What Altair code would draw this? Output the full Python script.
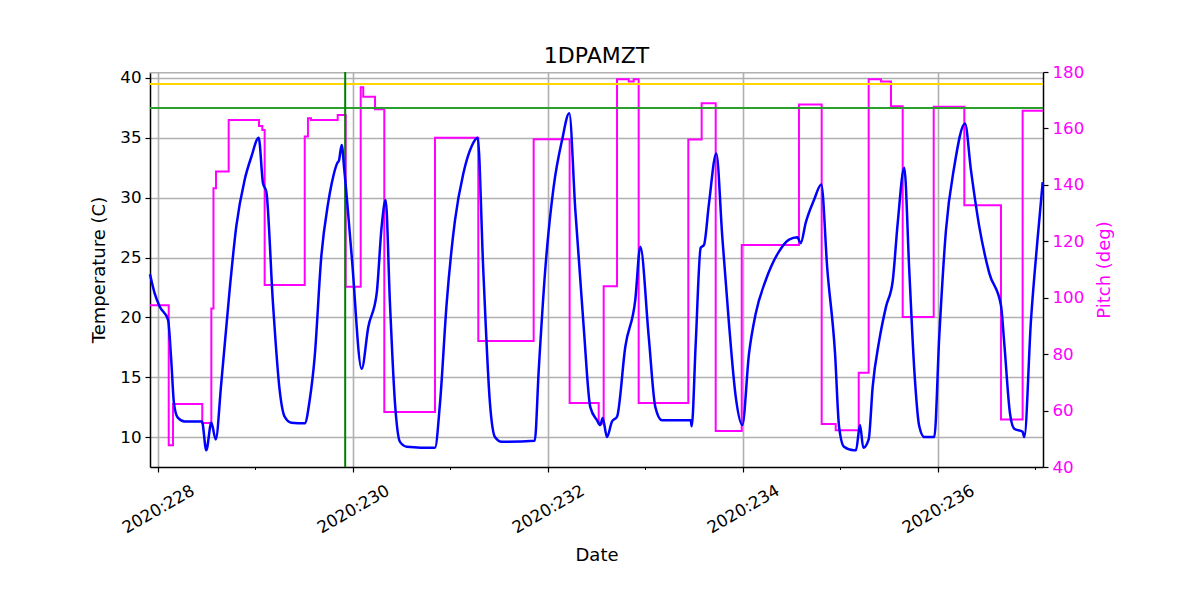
import altair as alt
import pandas as pd

# ---- data ----
temp_day = [227.918, 227.966, 228.017, 228.103, 228.136, 228.164, 228.205, 228.274, 228.451, 228.495,
            228.547, 228.592, 228.649, 228.735, 228.803, 228.889, 228.957, 229.033, 229.077, 229.111,
            229.179, 229.248, 229.299, 229.367, 229.505, 229.556, 229.607, 229.675, 229.744, 229.782,
            229.839, 229.856, 229.884, 229.911, 229.987, 230.089, 230.157, 230.243, 230.294, 230.335,
            230.379, 230.431, 230.482, 230.551, 230.841, 230.892, 230.961, 231.046, 231.131, 231.217,
            231.279, 231.336, 231.405, 231.456, 231.525, 231.864, 231.905, 231.972, 232.058, 232.144,
            232.218, 232.280, 232.366, 232.434, 232.503, 232.536, 232.561, 232.605, 232.656, 232.708,
            232.793, 232.895, 232.947, 233.033, 233.101, 233.169, 233.464, 233.474, 233.515, 233.566,
            233.600, 233.651, 233.726, 233.788, 233.856, 233.925, 233.993, 234.062, 234.130, 234.233,
            234.369, 234.472, 234.557, 234.592, 234.643, 234.728, 234.803, 234.865, 234.944, 234.985,
            235.036, 235.138, 235.159, 235.200, 235.234, 235.289, 235.330, 235.398, 235.467, 235.535,
            235.587, 235.654, 235.705, 235.757, 235.808, 235.859, 235.962, 236.013, 236.082, 236.167,
            236.277, 236.338, 236.423, 236.526, 236.646, 236.680, 236.738, 236.782, 236.868, 236.885,
            236.954, 237.023, 237.074]
temp_c = [23.6, 22.0, 20.9, 19.8, 16.4, 12.8, 11.6, 11.3, 11.3, 8.9,
          11.2, 9.8, 14.5, 22.3, 27.6, 31.5, 33.4, 35.0, 31.2, 30.5,
          21.2, 13.9, 11.7, 11.2, 11.15, 13.1, 16.7, 25.1, 29.5, 31.2,
          32.9, 33.1, 34.4, 32.3, 25.1, 15.7, 19.2, 22.0, 27.6, 29.8,
          21.2, 12.8, 9.6, 9.2, 9.1, 12.8, 21.2, 28.1, 32.0, 34.3,
          35.0, 24.0, 12.8, 10.0, 9.6, 9.7, 15.6, 24.0, 30.9, 34.8,
          37.05, 29.0, 19.2, 12.5, 11.4, 11.0, 11.6, 10.0, 11.3, 11.7,
          17.55, 21.45, 25.9, 18.4, 12.5, 11.4, 11.4, 10.9, 17.8, 25.8,
          26.05, 29.5, 33.7, 26.7, 19.5, 13.4, 11.0, 17.0, 20.3, 23.1,
          25.5, 26.5, 26.7, 26.2, 27.9, 29.8, 31.1, 24.0, 17.0, 10.9,
          9.2, 8.9, 8.9, 11.0, 9.1, 9.8, 14.2, 18.1, 20.9, 23.0,
          27.9, 32.5, 24.0, 15.6, 10.9, 10.0, 10.0, 18.4, 27.3, 32.6,
          36.2, 32.3, 27.6, 23.7, 21.0, 17.8, 12.0, 10.7, 10.45, 10.0,
          19.8, 26.7, 31.3]

pitch_day = [227.918, 228.110, 228.154, 228.454, 228.547, 228.569, 228.595, 228.725, 229.036, 229.070,
             229.094, 229.505, 229.538, 229.569, 229.843, 229.925, 230.079, 230.105, 230.226, 230.321,
             230.841, 231.285, 231.853, 232.222, 232.520, 232.571, 232.708, 232.828, 232.879, 232.930,
             233.439, 233.576, 233.720, 233.987, 234.574, 234.807, 234.951, 235.187, 235.289, 235.415,
             235.518, 235.638, 235.956, 236.270, 236.646, 236.868, 237.077]
pitch_deg = [97.3, 47.7, 62.3, 55.6, 96.2, 138.8, 144.7, 163.0, 160.9, 159.4,
             104.5, 157.1, 163.6, 163.0, 164.8, 103.9, 174.6, 171.2, 166.8, 59.5,
             156.7, 84.7, 156.2, 62.7, 55.4, 104.1, 177.4, 176.6, 177.4, 62.7,
             156.1, 168.9, 52.8, 118.7, 168.5, 55.2, 53.0, 73.4, 177.4, 176.6,
             167.9, 93.2, 167.7, 132.8, 56.8, 166.3, 166.3]

x_major = [228, 230, 232, 234, 236]
x_minor = [229, 231, 233, 235, 237]
temp_ticks = [10, 15, 20, 25, 30, 35, 40]
pitch_ticks = [40, 60, 80, 100, 120, 140, 160, 180]
limit_yellow = [39.5]
limit_green = [37.5]
top_grey = [40.44]
vline_day = [229.92]
x_domain = [227.918, 237.077]
t_domain = [7.5, 40.5]
p_domain = [40, 180]

W, H = 893, 395
FONT = "DejaVu Sans"
TICK_FS = 16.7
AXT_FS = 18

temp_df = pd.DataFrame({"day": temp_day, "temp": temp_c})
pitch_df = pd.DataFrame({"day": pitch_day, "pitch": pitch_deg})

x_enc = alt.X(
    "day:Q",
    scale=alt.Scale(domain=x_domain, nice=False, zero=False),
    axis=alt.Axis(
        values=x_major, labelExpr="'2020:' + datum.value", labelAngle=-30,
        labelAlign="center", labelBaseline="middle", labelPadding=37,
        tickSize=5, tickColor="black", tickWidth=1.2, grid=True, gridColor="#b0b0b0",
        gridWidth=1.6, domainColor="black", domainWidth=1.5, labelFontSize=TICK_FS,
        labelColor="black", labelFont=FONT, title="Date", titleFontSize=AXT_FS,
        titleFontWeight="normal", titleFont=FONT, titleColor="black",
        titleY=79, titleBaseline="top",
    ),
)

t_scale = alt.Scale(domain=t_domain, nice=False, zero=False)
t_axis = alt.Axis(
    values=temp_ticks, orient="left", tickSize=5, tickColor="black", tickWidth=1.2,
    labelPadding=4, grid=True, gridColor="#b0b0b0", gridWidth=1.6, domainColor="black",
    domainWidth=1.5, labelFontSize=TICK_FS, labelColor="black", labelFont=FONT,
    title="Temperature (C)", titleFontSize=AXT_FS, titleFontWeight="normal", titleFont=FONT,
    titleColor="black", titlePadding=11,
)
y_t = alt.Y("temp:Q", scale=t_scale, axis=t_axis)

temp_line = alt.Chart(temp_df).mark_line(color="#0000ff", strokeWidth=2.5, interpolate="monotone").encode(
    x=x_enc, y=y_t
)
grey_rule = alt.Chart(pd.DataFrame({"temp": top_grey})).mark_rule(color="#b0b0b0", strokeWidth=1.6).encode(y=y_t)
gold_rule = alt.Chart(pd.DataFrame({"temp": limit_yellow})).mark_rule(color="#FFD700", strokeWidth=2).encode(y=y_t)
green_rule = alt.Chart(pd.DataFrame({"temp": limit_green})).mark_rule(color="#2ca02c", strokeWidth=2).encode(y=y_t)
vline = alt.Chart(pd.DataFrame({"day": vline_day})).mark_rule(color="#008000", strokeWidth=2).encode(x=x_enc)
minor_ticks = alt.Chart(pd.DataFrame({"day": x_minor})).mark_rule(color="black", strokeWidth=1).encode(
    x=x_enc, y=alt.value(H), y2=alt.value(H + 3)
)

temp_group = alt.layer(grey_rule, gold_rule, green_rule, vline, minor_ticks, temp_line)

p_axis = alt.Axis(
    values=pitch_ticks, orient="right", tickSize=5, tickColor="black", tickWidth=1.2,
    labelPadding=4, grid=False, domainColor="black", domainWidth=1.5, labelFontSize=TICK_FS,
    labelColor="#ff00ff", labelFont=FONT, title="Pitch (deg)", titleFontSize=AXT_FS,
    titleFontWeight="normal", titleFont=FONT, titleColor="#ff00ff", titlePadding=12,
    titleAngle=270, titleBaseline="top",
)
pitch_line = alt.Chart(pitch_df).mark_line(color="#ff00ff", strokeWidth=2, interpolate="step-after").encode(
    x=x_enc,
    y=alt.Y("pitch:Q", scale=alt.Scale(domain=p_domain, nice=False, zero=False), axis=p_axis),
)

chart = (
    alt.layer(pitch_line, temp_group)
    .resolve_scale(y="independent")
    .properties(
        width=W, height=H,
        title=alt.TitleParams("1DPAMZT", fontSize=22, fontWeight="normal", font=FONT, color="black",
                              offset=-21, baseline="alphabetic"),
        autosize=alt.AutoSizeParams(type="none"),
        padding={"left": 150, "top": 72, "right": 157, "bottom": 133},
    )
    .configure_view(stroke="black", strokeWidth=1.5)
    .configure(background="white")
)

chart.save("out.html", embed_options={"renderer": "svg", "actions": False})
